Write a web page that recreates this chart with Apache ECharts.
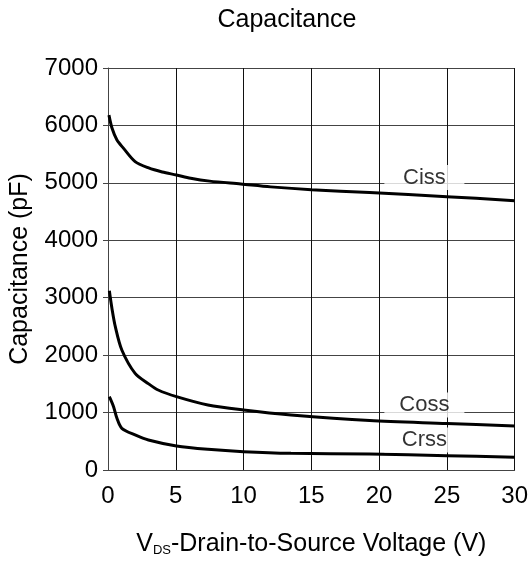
<!DOCTYPE html>
<html><head><meta charset="utf-8">
<script src="https://cdn.jsdelivr.net/npm/echarts@6/dist/echarts.min.js"></script>
<style>html,body{margin:0;padding:0;background:#fff}#c{width:531px;height:564px}</style>
</head><body><div id="c"></div>
<script>
const xTicks = [0, 5, 10, 15, 20, 25, 30];
const yTicks = [0, 1000, 2000, 3000, 4000, 5000, 6000, 7000];
const cissV = [0.07, 0.3, 0.66, 1.15, 2, 3, 4, 5.05, 6.1, 7.5, 9.8, 12, 15, 19.3, 25, 30];
const cissC = [6180, 5950, 5746, 5600, 5370, 5260, 5190, 5137, 5080, 5030, 4980, 4930, 4880, 4830, 4760, 4690];
const cossV = [0.1, 0.3, 0.54, 1.02, 2, 3, 3.7, 5.05, 7.37, 10, 13.5, 19.3, 25, 30];
const cossC = [3120, 2800, 2495, 2090, 1683, 1500, 1393, 1277, 1132, 1045, 958, 860, 810, 766];
const crssV = [0.1, 0.41, 0.66, 1.02, 2, 2.98, 5.05, 7.37, 10, 13.5, 19.3, 25, 30];
const crssC = [1277, 1103, 900, 726, 610, 522, 418, 360, 319, 290, 279, 250, 221];
const labelNames = ['Ciss', 'Coss', 'Crss'];
const labelV = [23.34, 23.34, 23.34];
const labelC = [5093, 1132, 522];

const pair = (a, b) => a.map((v, i) => [v, b[i]]);
const font = 'Liberation Sans, Arial, sans-serif';
const chart = echarts.init(document.getElementById('c'));
const lineS = (name, d) => ({
  name, type: 'line', data: d, symbol: 'none', smooth: 0.3,
  lineStyle: { color: '#000', width: 3 }, z: 3
});
chart.setOption({
  animation: false,
  backgroundColor: '#fff',
  title: {
    text: 'Capacitance', left: 282, top: 3, textAlign: 'center',
    textStyle: { fontFamily: font, fontSize: 25, fontWeight: 'normal', color: '#000' }
  },
  grid: { left: 106, right: 15, top: 68, bottom: 94 },
  xAxis: {
    type: 'value', min: 0, max: 30, interval: 5,
    axisLine: { show: true, onZero: false, lineStyle: { color: '#444', width: 1 } },
    axisTick: { show: false },
    splitLine: { show: true, lineStyle: { color: '#111', width: 1 } },
    axisLabel: { fontFamily: font, fontSize: 24, color: '#000', margin: 14,
      formatter: v => xTicks.includes(v) ? String(v) : '' },
    name: '{v|V}{s|DS}{v|-Drain-to-Source Voltage (V)}',
    nameLocation: 'middle', nameGap: 60,
    nameTextStyle: {
      rich: {
        v: { fontFamily: font, fontSize: 25, color: '#000', verticalAlign: 'bottom' },
        s: { fontFamily: font, fontSize: 13, color: '#000', padding: [14, 0, 0, 0], verticalAlign: 'bottom' }
      }
    }
  },
  yAxis: {
    type: 'value', min: 0, max: 7000, interval: 1000,
    axisLine: { show: true, lineStyle: { color: '#444', width: 1 } },
    axisTick: { show: true, length: 5, lineStyle: { color: '#444' } },
    splitLine: { show: true, lineStyle: { color: '#444', width: 1 } },
    axisLabel: { fontFamily: font, fontSize: 24, color: '#000', margin: 10,
      formatter: v => yTicks.includes(v) ? String(v) : '' },
    name: 'Capacitance (pF)', nameLocation: 'middle', nameGap: 75,
    nameTextStyle: { fontFamily: font, fontSize: 25, color: '#000' }
  },
  series: [
    lineS('Ciss', pair(cissV, cissC)),
    lineS('Coss', pair(cossV, cossC)),
    lineS('Crss', pair(crssV, crssC)),
    {
      type: 'scatter', symbolSize: 0, z: 4,
      data: labelNames.map((n, i) => ({ name: n, value: [labelV[i], labelC[i]] })),
      label: {
        show: true, position: 'inside', formatter: p => p.name,
        backgroundColor: '#fff', width: 80, height: 25, lineHeight: 25, align: 'center',
        fontFamily: font, fontSize: 22, color: '#000'
      }
    }
  ]
});
</script></body></html>
